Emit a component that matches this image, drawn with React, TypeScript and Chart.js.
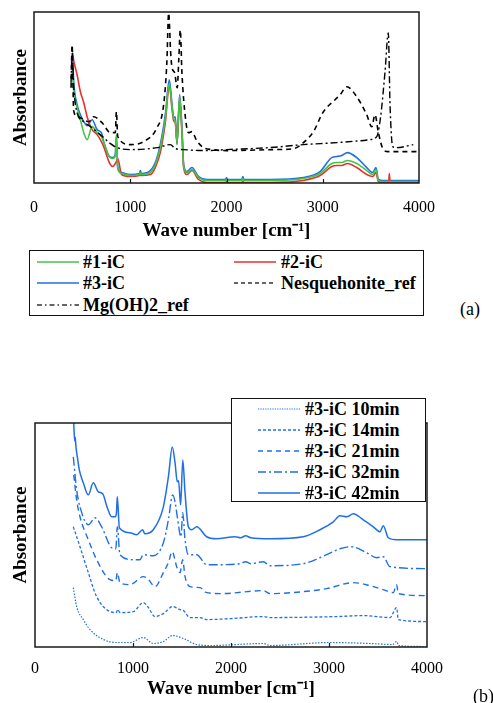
import React, { useEffect, useRef } from "react";
import { Chart, registerables } from "chart.js";
Chart.register(...registerables);

const SERIF = "'Liberation Serif', 'Times New Roman', serif";
const GREEN = "#46c346";
const RED = "#e8302a";
const BLUE = "#1f6fe8";

// ---------- Panel (a) ----------
const icWave = [400, 413, 448, 482, 517, 552, 604, 656, 700, 724, 783, 818, 845, 856, 870, 910, 1001, 1095, 1105, 1115, 1209, 1260, 1312, 1364, 1406, 1434, 1451, 1468, 1486, 1513, 1537, 1555, 1589, 1641, 1710, 1800, 1990, 2000, 2010, 2160, 2170, 2180, 2453, 2799, 2972, 3094, 3146, 3197, 3256, 3353, 3457, 3519, 3553, 3578, 3630, 3685, 3692, 3699, 4000];
const ic1Abs = [1.10, 0.91, 0.75, 0.63, 0.50, 0.43, 0.56, 0.50, 0.46, 0.40, 0.26, 0.24, 0.27, 0.48, 0.14, 0.09, 0.07, 0.08, 0.10, 0.08, 0.10, 0.18, 0.35, 0.64, 0.99, 0.76, 0.64, 0.61, 0.40, 0.86, 0.52, 0.16, 0.10, 0.13, 0.05, 0.02, 0.02, 0.03, 0.02, 0.02, 0.04, 0.02, 0.02, 0.04, 0.09, 0.19, 0.20, 0.20, 0.22, 0.19, 0.12, 0.08, 0.13, 0.02, 0.01, 0.01, 0.01, 0.01, 0.01];
const ic2Abs = [1.30, 1.22, 1.08, 0.91, 0.80, 0.66, 0.53, 0.48, 0.41, 0.36, 0.20, 0.16, 0.19, 0.21, 0.24, 0.08, 0.06, 0.07, 0.08, 0.07, 0.08, 0.15, 0.30, 0.60, 0.97, 0.74, 0.62, 0.60, 0.40, 0.83, 0.50, 0.15, 0.08, 0.12, 0.03, 0.00, 0.00, 0.01, 0.00, 0.00, 0.01, 0.00, 0.00, 0.02, 0.07, 0.16, 0.17, 0.17, 0.19, 0.15, 0.08, 0.06, 0.10, 0.01, 0.00, 0.00, 0.09, 0.00, 0.00];
const ic3Abs = [1.30, 1.01, 0.78, 0.68, 0.61, 0.57, 0.63, 0.53, 0.50, 0.41, 0.26, 0.25, 0.28, 0.46, 0.15, 0.10, 0.08, 0.09, 0.12, 0.09, 0.12, 0.20, 0.38, 0.68, 1.03, 0.78, 0.65, 0.66, 0.38, 0.88, 0.55, 0.18, 0.11, 0.15, 0.06, 0.03, 0.03, 0.05, 0.03, 0.03, 0.06, 0.03, 0.03, 0.05, 0.11, 0.25, 0.26, 0.27, 0.30, 0.25, 0.15, 0.10, 0.15, 0.03, 0.02, 0.02, 0.02, 0.02, 0.02];

const nesqWave = [385, 396, 412, 450, 482, 569, 620, 707, 794, 845, 856, 870, 1001, 1139, 1278, 1347, 1380, 1399, 1420, 1434, 1461, 1488, 1505, 1520, 1537, 1572, 1605, 1641, 1690, 1760, 1850, 2000, 2500, 2700, 2799, 2903, 3007, 3128, 3180, 3250, 3353, 3457, 3509, 3543, 3578, 3630, 3680, 4000];
const nesqAbs = [0.95, 1.38, 0.72, 0.66, 0.65, 0.61, 0.66, 0.60, 0.50, 0.50, 0.71, 0.46, 0.38, 0.41, 0.55, 0.78, 1.20, 1.70, 1.30, 1.15, 1.10, 0.95, 1.25, 1.53, 1.10, 0.66, 0.50, 0.51, 0.42, 0.35, 0.33, 0.32, 0.33, 0.34, 0.40, 0.51, 0.71, 0.83, 0.88, 0.96, 0.86, 0.68, 0.56, 0.68, 0.50, 0.33, 0.31, 0.31];

const mgWave = [385, 396, 413, 448, 517, 600, 700, 794, 863, 1001, 1286, 1416, 1470, 1550, 1800, 2000, 2453, 2799, 3146, 3491, 3561, 3600, 3647, 3681, 3699, 3727, 3768, 3940];
const mgAbs = [1.00, 1.30, 0.95, 0.70, 0.61, 0.55, 0.47, 0.39, 0.35, 0.33, 0.35, 0.38, 0.34, 0.33, 0.32, 0.33, 0.35, 0.38, 0.40, 0.43, 0.46, 0.65, 1.11, 1.50, 0.78, 0.36, 0.35, 0.38];

// ---------- Panel (b) ----------
const min42Wave = [395, 405, 410, 418, 432, 452, 493, 544, 595, 646, 691, 738, 782, 816, 830, 840, 861, 969, 1037, 1099, 1120, 1207, 1310, 1361, 1401, 1429, 1452, 1465, 1486, 1508, 1531, 1565, 1599, 1650, 1752, 1850, 2040, 2100, 2150, 2200, 2398, 2738, 2908, 3044, 3112, 3180, 3248, 3350, 3452, 3520, 3554, 3605, 3690, 4000];
const min42Abs = [2.24, 2.06, 2.10, 2.00, 1.90, 1.77, 1.64, 1.52, 1.64, 1.55, 1.53, 1.39, 1.30, 1.30, 1.33, 1.50, 1.19, 1.14, 1.12, 1.17, 1.13, 1.17, 1.40, 1.70, 2.00, 1.84, 1.65, 1.66, 1.42, 1.87, 1.54, 1.20, 1.17, 1.20, 1.10, 1.08, 1.10, 1.09, 1.11, 1.09, 1.08, 1.10, 1.17, 1.25, 1.31, 1.30, 1.33, 1.27, 1.20, 1.15, 1.21, 1.09, 1.07, 1.07];

const min32Wave = [391, 425, 459, 544, 612, 680, 782, 825, 840, 867, 1003, 1071, 1105, 1207, 1310, 1361, 1405, 1429, 1452, 1490, 1507, 1531, 1565, 1650, 1752, 1888, 2092, 2150, 2200, 2330, 2398, 2738, 2976, 3112, 3231, 3384, 3486, 3554, 3622, 4000];
const min32Abs = [1.90, 1.57, 1.40, 1.22, 1.29, 1.20, 0.99, 0.98, 1.20, 0.92, 0.87, 0.87, 0.92, 0.91, 1.04, 1.27, 1.52, 1.45, 1.30, 1.10, 1.34, 1.07, 0.92, 0.92, 0.82, 0.82, 0.83, 0.85, 0.83, 0.85, 0.81, 0.83, 0.92, 0.98, 1.00, 0.94, 0.89, 0.90, 0.80, 0.78];

const min21Wave = [395, 425, 459, 544, 629, 765, 825, 840, 867, 969, 1105, 1150, 1224, 1310, 1361, 1400, 1446, 1480, 1507, 1531, 1582, 1684, 1752, 1900, 2330, 2398, 2738, 2976, 3248, 3418, 3554, 3656, 3690, 3707, 4000];
const min21Abs = [1.72, 1.47, 1.30, 1.07, 0.87, 0.67, 0.66, 0.74, 0.64, 0.62, 0.70, 0.68, 0.60, 0.74, 0.84, 0.95, 0.80, 0.74, 0.87, 0.70, 0.60, 0.59, 0.54, 0.53, 0.56, 0.53, 0.55, 0.58, 0.64, 0.61, 0.57, 0.54, 0.62, 0.53, 0.51];

const min14Wave = [391, 459, 544, 629, 765, 830, 844, 867, 1003, 1105, 1150, 1224, 1310, 1405, 1480, 1514, 1582, 1684, 1752, 2000, 2330, 2398, 3078, 3350, 3622, 3690, 3707, 4000];
const min14Abs = [1.20, 1.00, 0.74, 0.50, 0.35, 0.34, 0.37, 0.34, 0.35, 0.44, 0.40, 0.30, 0.33, 0.40, 0.37, 0.36, 0.29, 0.29, 0.27, 0.28, 0.30, 0.29, 0.30, 0.31, 0.29, 0.39, 0.27, 0.25];

const min10Wave = [391, 425, 493, 561, 697, 833, 969, 1105, 1207, 1310, 1405, 1514, 1650, 1800, 2330, 2400, 3010, 3418, 3650, 3690, 3710, 4000];
const min10Abs = [0.59, 0.40, 0.27, 0.17, 0.07, 0.04, 0.04, 0.09, 0.03, 0.05, 0.11, 0.08, 0.02, 0.01, 0.03, 0.01, 0.04, 0.03, 0.02, 0.05, 0.01, 0.00];

const xTickValues = [0, 1000, 2000, 3000, 4000];
const legendA = ["#1-iC", "#2-iC", "#3-iC", "Nesquehonite_ref", "Mg(OH)2_ref"];
const legendB = ["#3-iC 10min", "#3-iC 14min", "#3-iC 21min", "#3-iC 32min", "#3-iC 42min"];

const pts = (xs: number[], ys: number[]) => xs.map((x, i) => ({ x, y: ys[i] }));

const framePlugin = {
  id: "frame",
  afterDatasetsDraw(chart: any) {
    const { ctx, chartArea: a, scales } = chart;
    ctx.save();
    ctx.strokeStyle = "#1a1a1a";
    ctx.lineWidth = 1.5;
    ctx.strokeRect(a.left, a.top, a.right - a.left, a.bottom - a.top);
    ctx.lineWidth = 1.2;
    for (const v of xTickValues) {
      if (v === 0 || v === 4000) continue;
      const px = Math.round(scales.x.getPixelForValue(v)) + 0.5;
      ctx.beginPath();
      ctx.moveTo(px, a.bottom);
      ctx.lineTo(px, a.bottom - 4);
      ctx.stroke();
    }
    ctx.restore();
  },
};

function makeOptions(c: { padTop: number; padRight: number; xHeight: number; yWidth: number; yMax: number; tickPad: number; titlePad: number }) {
  return {
    responsive: false,
    animation: false as const,
    layout: { padding: { top: c.padTop, right: c.padRight, left: 0, bottom: 0 } },
    plugins: { legend: { display: false }, tooltip: { enabled: false } },
    elements: { point: { radius: 0 }, line: { cubicInterpolationMode: "monotone" as const } },
    scales: {
      x: {
        type: "linear" as const,
        min: 0,
        max: 4000,
        afterBuildTicks: (s: any) => { s.ticks = xTickValues.map((v) => ({ value: v })); },
        grid: { display: false, drawTicks: false },
        border: { display: false },
        ticks: { color: "#000", font: { family: SERIF, size: 16 }, padding: c.tickPad, maxRotation: 0, autoSkip: false, callback: (v: any) => String(v) },
        title: { display: true, text: "Wave number [cm\u207B\u00B9]", color: "#000", font: { family: SERIF, size: 19, weight: "bold" as const }, padding: { top: 0, bottom: c.titlePad } },
        afterFit: (s: any) => { s.height = c.xHeight; },
      },
      y: {
        type: "linear" as const,
        min: -0.005,
        max: c.yMax,
        grid: { display: false },
        border: { display: false },
        ticks: { display: false },
        title: { display: true, text: "Absorbance", color: "#000", font: { family: SERIF, size: 19, weight: "bold" as const }, padding: { top: 10, bottom: 0 } },
        afterFit: (s: any) => { s.width = c.yWidth; },
      },
    },
  };
}

function Sample({ left, top, color, dash, lw = 1.6 }: { left: number; top: number; color: string; dash?: string; lw?: number }) {
  return (
    <svg width={42} height={6} style={{ position: "absolute", left, top: top - 3 }}>
      <line x1={0} y1={3} x2={42} y2={3} stroke={color} strokeWidth={lw} strokeDasharray={dash} />
    </svg>
  );
}

const textStyle = (left: number, cy: number): React.CSSProperties => ({
  position: "absolute", left, top: cy - 10, lineHeight: "20px", fontSize: 18, fontWeight: "bold",
  fontFamily: SERIF, color: "#000", whiteSpace: "nowrap",
});

export default function App() {
  const refA = useRef<HTMLCanvasElement>(null);
  const refB = useRef<HTMLCanvasElement>(null);

  useEffect(() => {
    const a = new Chart(refA.current!, {
      type: "line",
      data: {
        datasets: [
          { label: legendA[3], data: pts(nesqWave, nesqAbs), borderColor: "#000", borderWidth: 1.6, borderDash: [5, 4] },
          { label: legendA[4], data: pts(mgWave, mgAbs), borderColor: "#000", borderWidth: 1.4, borderDash: [7, 3, 2, 3] },
          { label: legendA[0], data: pts(icWave, ic1Abs), borderColor: GREEN, borderWidth: 1.6 },
          { label: legendA[1], data: pts(icWave, ic2Abs), borderColor: RED, borderWidth: 1.6 },
          { label: legendA[2], data: pts(icWave, ic3Abs), borderColor: BLUE, borderWidth: 1.6 },
        ],
      },
      options: makeOptions({ padTop: 12, padRight: 74, xHeight: 62, yWidth: 34, yMax: 1.71, tickPad: 15, titlePad: 3 }) as any,
      plugins: [framePlugin],
    });
    const b = new Chart(refB.current!, {
      type: "line",
      data: {
        datasets: [
          { label: legendB[0], data: pts(min10Wave, min10Abs), borderColor: BLUE, borderWidth: 1.2, borderDash: [1.5, 1.5] },
          { label: legendB[1], data: pts(min14Wave, min14Abs), borderColor: BLUE, borderWidth: 1.3, borderDash: [3, 2] },
          { label: legendB[2], data: pts(min21Wave, min21Abs), borderColor: BLUE, borderWidth: 1.4, borderDash: [6, 4] },
          { label: legendB[3], data: pts(min32Wave, min32Abs), borderColor: BLUE, borderWidth: 1.4, borderDash: [9, 3, 2, 3] },
          { label: legendB[4], data: pts(min42Wave, min42Abs), borderColor: BLUE, borderWidth: 1.5 },
        ],
      },
      options: makeOptions({ padTop: 23, padRight: 66, xHeight: 56, yWidth: 35, yMax: 2.24, tickPad: 12, titlePad: 3 }) as any,
      plugins: [framePlugin],
    });
    return () => { a.destroy(); b.destroy(); };
  }, []);

  return (
    <div style={{ position: "absolute", left: 0, top: 0, width: 493, height: 703, background: "#fff", overflow: "hidden" }}>
      <canvas ref={refA} width={493} height={245} style={{ position: "absolute", left: 0, top: 0 }} />
      <canvas ref={refB} width={493} height={303} style={{ position: "absolute", left: 0, top: 400 }} />

      {/* legend (a) */}
      <div style={{ position: "absolute", left: 29, top: 250, width: 393, height: 64, border: "1.5px solid #111", background: "#fff" }} />
      <Sample left={37} top={261.7} color={GREEN} />
      <div style={textStyle(83, 261.7)}>{legendA[0]}</div>
      <Sample left={234} top={261.7} color={RED} />
      <div style={textStyle(281, 261.7)}>{legendA[1]}</div>
      <Sample left={37} top={283.3} color={BLUE} />
      <div style={textStyle(83, 283.3)}>{legendA[2]}</div>
      <Sample left={234} top={283.3} color="#333" dash="4 3" lw={1.3} />
      <div style={textStyle(281, 283.3)}>{legendA[3]}</div>
      <Sample left={37} top={305} color="#333" dash="5 3 1.5 3" lw={1.3} />
      <div style={textStyle(83, 305)}>{legendA[4]}</div>
      <div style={{ position: "absolute", left: 460, top: 299, lineHeight: "20px", fontSize: 18, fontFamily: SERIF, color: "#000" }}>(a)</div>

      {/* legend (b) */}
      <div style={{ position: "absolute", left: 231, top: 398, width: 193, height: 102, border: "1.5px solid #111", background: "#fff" }} />
      <Sample left={258} top={409} color={BLUE} dash="1.2 1.2" lw={1.2} />
      <div style={textStyle(305, 409)}>{legendB[0]}</div>
      <Sample left={258} top={430} color={BLUE} dash="3 2" lw={1.3} />
      <div style={textStyle(305, 430)}>{legendB[1]}</div>
      <Sample left={258} top={451} color={BLUE} dash="5 4" lw={1.4} />
      <div style={textStyle(305, 451)}>{legendB[2]}</div>
      <Sample left={258} top={472} color={BLUE} dash="8 3 2 3" lw={1.4} />
      <div style={textStyle(305, 472)}>{legendB[3]}</div>
      <Sample left={258} top={493} color={BLUE} lw={1.6} />
      <div style={textStyle(305, 493)}>{legendB[4]}</div>
      <div style={{ position: "absolute", left: 473, top: 686, lineHeight: "20px", fontSize: 18, fontFamily: SERIF, color: "#000" }}>(b)</div>
    </div>
  );
}
